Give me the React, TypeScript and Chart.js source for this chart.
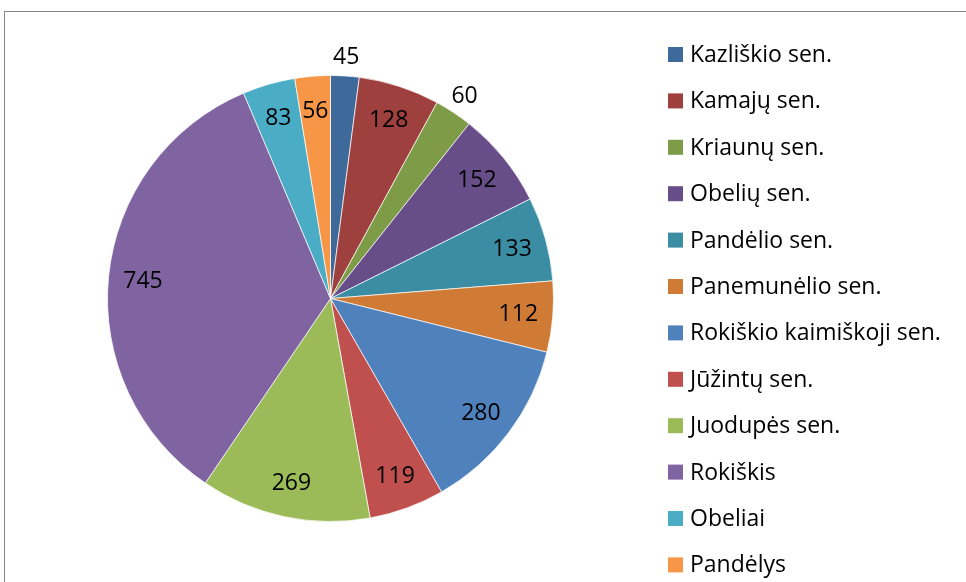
import React, { useEffect, useRef } from 'react';
import { Chart, registerables } from 'chart.js';

Chart.register(...registerables);

const categories = [
  'Kazliškio sen.',
  'Kamajų sen.',
  'Kriaunų sen.',
  'Obelių sen.',
  'Pandėlio sen.',
  'Panemunėlio sen.',
  'Rokiškio kaimiškoji sen.',
  'Jūžintų sen.',
  'Juodupės sen.',
  'Rokiškis',
  'Obeliai',
  'Pandėlys',
];

const values = [45, 128, 60, 152, 133, 112, 280, 119, 269, 745, 83, 56];

const colors = [
  '#3E6A9B',
  '#9E413E',
  '#7E9B48',
  '#684E88',
  '#3A8DA3',
  '#CF7B36',
  '#4F81BD',
  '#C0504D',
  '#9BBB59',
  '#8064A2',
  '#4BACC6',
  '#F79646',
];

// slices whose value label sits outside the pie
const outsideLabels = [0, 2];

const FONT = '"Open Sans", Lato, sans-serif';
const FONT_SIZE = 23;

const valueLabelsPlugin = {
  id: 'valueLabels',
  afterDatasetsDraw(chart: any) {
    const ctx = chart.ctx;
    const meta = chart.getDatasetMeta(0);
    ctx.save();
    ctx.font = `${FONT_SIZE}px ${FONT}`;
    ctx.fillStyle = '#000000';
    ctx.textAlign = 'center';
    ctx.textBaseline = 'middle';
    meta.data.forEach((arc: any, i: number) => {
      const p = arc.getProps(['x', 'y', 'startAngle', 'endAngle', 'outerRadius'], true);
      const mid = (p.startAngle + p.endAngle) / 2;
      const r = outsideLabels.includes(i) ? p.outerRadius + 20 : p.outerRadius * 0.845;
      ctx.fillText(String(chart.data.datasets[0].data[i]), p.x + Math.cos(mid) * r, p.y + Math.sin(mid) * r + 1);
    });
    ctx.restore();
  },
};

const legendPlugin = {
  id: 'sideLegend',
  afterDraw(chart: any) {
    const ctx = chart.ctx;
    const labels = chart.data.labels as string[];
    const bg = chart.data.datasets[0].backgroundColor as string[];
    ctx.save();
    ctx.font = `${FONT_SIZE}px ${FONT}`;
    ctx.textAlign = 'left';
    ctx.textBaseline = 'middle';
    labels.forEach((lab, i) => {
      const cy = 54.5 + i * 46.4;
      ctx.fillStyle = bg[i];
      ctx.fillRect(668, cy - 7.5, 15, 15);
      ctx.fillStyle = '#000000';
      ctx.fillText(lab, 690, cy + 1);
    });
    ctx.restore();
  },
};

export default function App() {
  const canvasRef = useRef<HTMLCanvasElement | null>(null);

  useEffect(() => {
    document.body.style.margin = '0';
    const canvas = canvasRef.current;
    if (!canvas) return;
    const chart = new Chart(canvas, {
      type: 'pie',
      data: {
        labels: categories,
        datasets: [
          {
            data: values,
            backgroundColor: colors,
            borderColor: 'rgba(255,255,255,0.7)',
            borderWidth: 1,
            hoverOffset: 0,
          },
        ],
      },
      options: {
        animation: false,
        responsive: false,
        maintainAspectRatio: false,
        layout: { padding: { left: 107, right: 412, top: 75, bottom: 60 } },
        plugins: {
          legend: { display: false },
          tooltip: { enabled: false },
        },
      },
      plugins: [valueLabelsPlugin, legendPlugin],
    });
    return () => chart.destroy();
  }, []);

  return (
    <div
      style={{
        position: 'fixed',
        left: 0,
        top: 0,
        width: 966,
        height: 582,
        overflow: 'hidden',
        background: '#ffffff',
      }}
    >
      <div
        style={{
          position: 'absolute',
          left: 4,
          top: 11,
          width: 1200,
          height: 1200,
          border: '1px solid #868686',
          boxSizing: 'border-box',
        }}
      />
      <canvas
        ref={canvasRef}
        width={966}
        height={582}
        style={{ position: 'absolute', left: 0, top: 0, width: 966, height: 582 }}
      />
    </div>
  );
}
